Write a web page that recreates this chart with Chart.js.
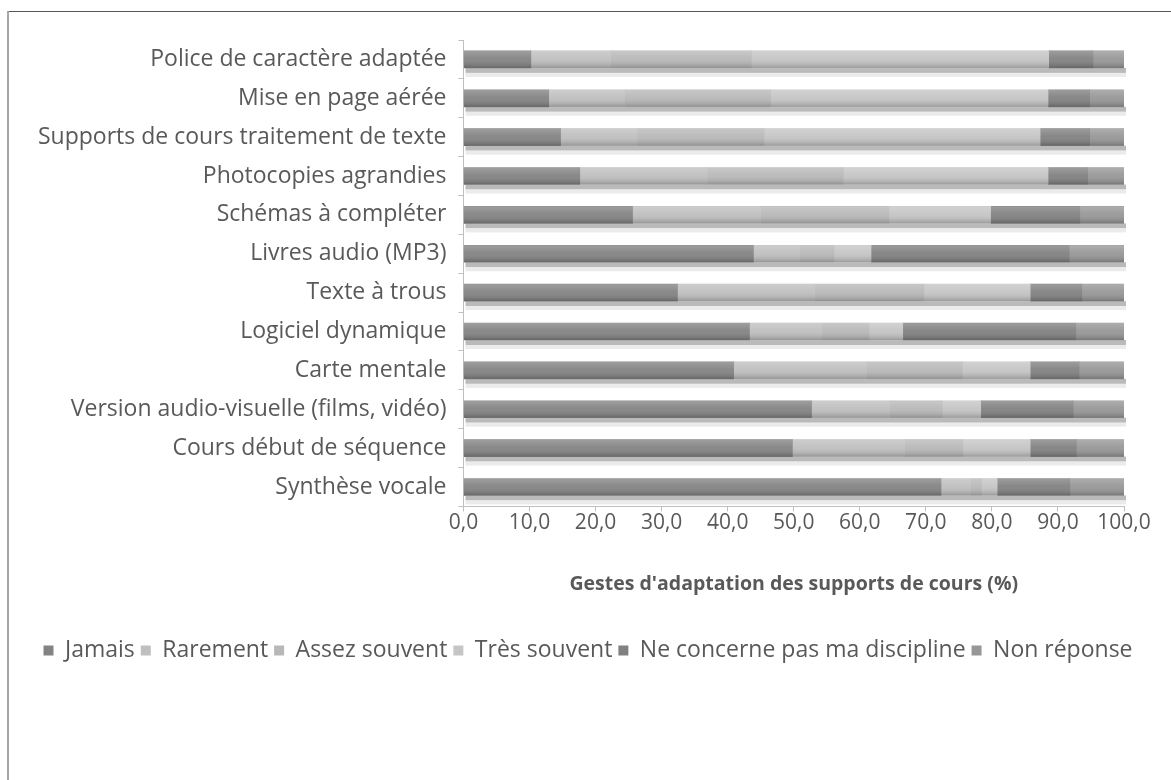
<!DOCTYPE html>
<html>
<head>
<meta charset="utf-8">
<script src="https://cdn.jsdelivr.net/npm/chart.js@4.4.1/dist/chart.umd.min.js"></script>
<style>
  html, body { margin: 0; padding: 0; background: #fff; }
  #wrap { position: relative; width: 1171px; height: 780px; }
  #frameTop { position: absolute; left: 7px; top: 11px; right: 0; border-top: 1px solid #595959; }
  #frameLeft { position: absolute; left: 7px; top: 11px; bottom: 0; border-left: 2px solid #a6a6a6; }
  canvas { position: absolute; left: 0; top: 0; }
</style>
</head>
<body>
<div id="wrap">
  <canvas id="myChart" width="1171" height="780"></canvas>
  <div id="frameTop"></div>
  <div id="frameLeft"></div>
</div>
<script>
const categories = [
  'Police de caractère adaptée',
  'Mise en page aérée',
  'Supports de cours traitement de texte',
  'Photocopies agrandies',
  'Schémas à compléter',
  'Livres audio (MP3)',
  'Texte à trous',
  'Logiciel dynamique',
  'Carte mentale',
  'Version audio-visuelle (films, vidéo)',
  'Cours début de séquence',
  'Synthèse vocale'
];

const seriesNames = ['Jamais', 'Rarement', 'Assez souvent', 'Très souvent', 'Ne concerne pas ma discipline', 'Non réponse'];

const jamais        = [10.2, 12.9, 14.7, 17.6, 25.6, 43.9, 32.4, 43.3, 40.9, 52.7, 49.8, 72.3];
const rarement      = [12.1, 11.5, 11.6, 19.3, 19.4,  7.0, 20.8, 10.9, 20.1, 11.8, 17.0,  4.5];
const assezSouvent  = [21.3, 22.1, 19.2, 20.6, 19.4,  5.2, 16.5,  7.2, 14.5,  8.0,  8.8,  1.6];
const tresSouvent   = [45.0, 42.0, 41.8, 31.0, 15.4,  5.6, 16.1,  5.1, 10.3,  5.8, 10.2,  2.4];
const neConcernePas = [ 6.7,  6.3,  7.5,  6.0, 13.5, 30.0,  7.8, 26.2,  7.4, 14.0,  7.0, 11.0];
const nonReponse    = [ 4.7,  5.2,  5.2,  5.5,  6.7,  8.3,  6.4,  7.3,  6.8,  7.7,  7.2,  8.2];

const xTicks = [0, 10, 20, 30, 40, 50, 60, 70, 80, 90, 100];

const couleurs = ['#838383', '#bfbfbf', '#b8b8b8', '#c5c5c5', '#818181', '#979797'];
const series = [jamais, rarement, assezSouvent, tresSouvent, neConcernePas, nonReponse];

const police = '"Open Sans", sans-serif';
const gris = '#595959';

// ombre sous les barres + degrade style Excel
const ombreBarres = {
  id: 'ombreBarres',
  beforeDatasetsDraw(chart) {
    const ctx = chart.ctx;
    const last = chart.getDatasetMeta(chart.data.datasets.length - 1).data;
    const left = chart.scales.x.getPixelForValue(0) + 2;
    ctx.save();
    last.forEach(bar => {
      const bottom = bar.y + bar.height / 2;
      const w = bar.x + 2 - left;
      ctx.fillStyle = '#bababa';
      ctx.fillRect(left, bottom, w, 5);
      ctx.fillStyle = '#ebebeb';
      ctx.fillRect(left, bottom + 5, w, 4);
    });
    ctx.restore();
  },
  afterDatasetsDraw(chart) {
    const ctx = chart.ctx;
    ctx.save();
    chart.data.datasets.forEach((ds, i) => {
      chart.getDatasetMeta(i).data.forEach(bar => {
        const top = bar.y - bar.height / 2;
        const g = ctx.createLinearGradient(0, top, 0, top + bar.height);
        g.addColorStop(0, 'rgba(255,255,255,0.22)');
        g.addColorStop(0.45, 'rgba(255,255,255,0.05)');
        g.addColorStop(1, 'rgba(0,0,0,0.22)');
        ctx.fillStyle = g;
        const l = Math.min(bar.x, bar.base);
        ctx.fillRect(l, top, Math.abs(bar.x - bar.base), bar.height);
      });
    });
    ctx.restore();
  },
  beforeDraw(chart) {
    // la legende d'origine est centree un peu plus a droite
    const lg = chart.legend;
    if (lg && !lg._decale) { lg.left += 22; lg.right += 22; lg._decale = true; }
  }
};

new Chart(document.getElementById('myChart'), {
  type: 'bar',
  data: {
    labels: categories,
    datasets: seriesNames.map((nom, i) => ({
      label: nom,
      data: series[i],
      backgroundColor: couleurs[i],
      borderWidth: 0,
      barThickness: 17
    }))
  },
  options: {
    indexAxis: 'y',
    responsive: false,
    animation: false,
    devicePixelRatio: 1,
    layout: { padding: { top: 40, left: 8, right: 47, bottom: 108 } },
    scales: {
      x: {
        stacked: true,
        min: 0,
        max: 100,
        afterBuildTicks: s => { s.ticks = xTicks.map(v => ({ value: v })); },
        ticks: {
          font: { family: police, size: 21 },
          color: gris,
          padding: -1,
          maxRotation: 0,
          callback: v => v.toFixed(1).replace('.', ',')
        },
        grid: { drawOnChartArea: false, tickLength: 5, color: '#bfbfbf' },
        border: { color: '#bfbfbf' },
        title: {
          display: true,
          text: "Gestes d'adaptation des supports de cours (%)",
          font: { family: police, size: 19.5, weight: 'bold' },
          color: gris,
          padding: { top: 38, bottom: 37 }
        }
      },
      y: {
        stacked: true,
        afterFit: s => { s.width = 455.5; },
        ticks: {
          font: { family: police, size: 23 },
          color: gris,
          padding: 12
        },
        grid: { drawOnChartArea: false, offset: true, tickLength: 5, color: '#bfbfbf' },
        border: { color: '#bfbfbf' }
      }
    },
    plugins: {
      legend: {
        position: 'bottom',
        labels: {
          font: { family: police, size: 23 },
          color: gris,
          boxWidth: 10,
          boxHeight: 10,
          padding: 6
        }
      },
      tooltip: { enabled: false }
    }
  },
  plugins: [ombreBarres]
});
</script>
</body>
</html>
